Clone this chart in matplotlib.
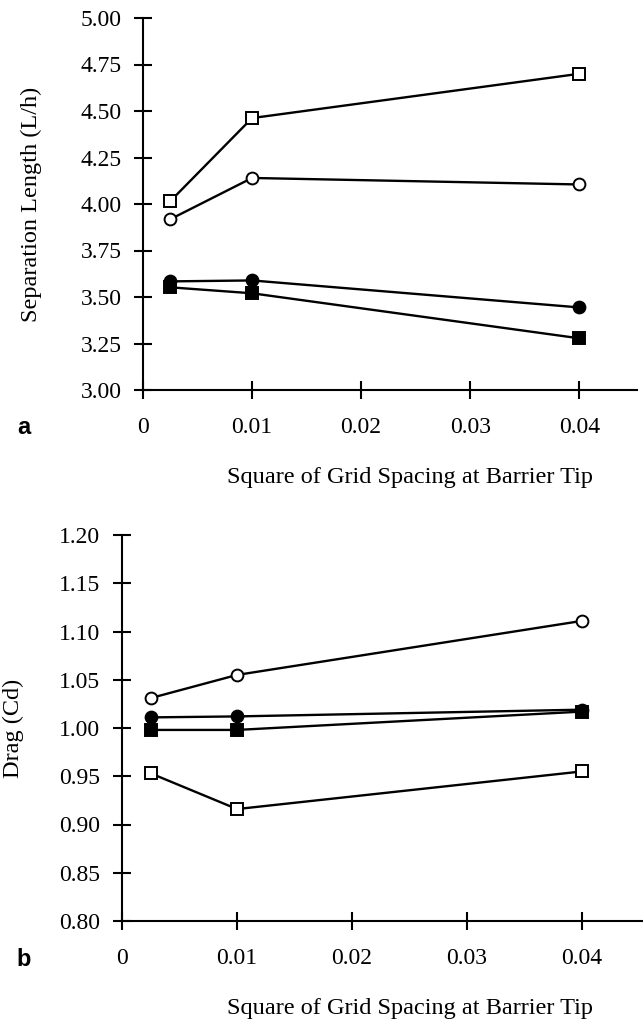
import matplotlib

matplotlib.use("Agg")
import matplotlib.pyplot as plt

# grid spacing squared at the barrier tip (0.05^2, 0.1^2, 0.2^2)
grid_sq = [0.0025, 0.01, 0.04]

# separation length L/h, panel a
sep_open_sq = [4.015, 4.462, 4.700]
sep_open_ci = [3.918, 4.140, 4.105]
sep_fill_ci = [3.584, 3.589, 3.444]
sep_fill_sq = [3.552, 3.520, 3.278]

# drag coefficient Cd, panel b
cd_open_ci = [1.031, 1.055, 1.111]
cd_fill_ci = [1.011, 1.012, 1.019]
cd_fill_sq = [0.998, 0.998, 1.017]
cd_open_sq = [0.953, 0.916, 0.955]

xticks = [0, 0.01, 0.02, 0.03, 0.04]
xticklabels = ["0", "0.01", "0.02", "0.03", "0.04"]
sep_ticks = [3.00, 3.25, 3.50, 3.75, 4.00, 4.25, 4.50, 4.75, 5.00]
cd_ticks = [0.80, 0.85, 0.90, 0.95, 1.00, 1.05, 1.10, 1.15, 1.20]

plt.rcParams.update({
    "font.family": "Liberation Serif",
    "font.size": 17,
    "axes.linewidth": 1.5,
})

SERIES_STYLE = {
    "open_sq": dict(marker="s", mfc="white"),
    "open_ci": dict(marker="o", mfc="white"),
    "fill_ci": dict(marker="o", mfc="black"),
    "fill_sq": dict(marker="s", mfc="black"),
}


def panel(ax, series, yticks, ylabel, tag, ylab_x, xlab_x):
    for key, ys in series:
        ax.plot(grid_sq, ys, color="black", lw=1.7, ms=8.5, mec="black",
                mew=1.4, clip_on=False, zorder=3, **SERIES_STYLE[key])
    ax.set_xlim(0, 0.0453)
    ax.set_ylim(yticks[0], yticks[-1])
    ax.set_xticks(xticks)
    ax.set_xticklabels(xticklabels)
    ax.set_yticks(yticks)
    ax.set_yticklabels([f"{t:.2f}" for t in yticks])
    ax.spines["top"].set_visible(False)
    ax.spines["right"].set_visible(False)
    ax.tick_params(direction="inout", length=13, width=1.5, labelsize=17)
    ax.tick_params(axis="x", pad=13)
    ax.tick_params(axis="y", pad=9)
    ax.set_ylabel(ylabel, fontsize=17.5)
    ax.yaxis.set_label_coords(ylab_x, 0.5)
    ax.set_xlabel("Square of Grid Spacing at Barrier Tip", fontsize=17.5)
    ax.xaxis.set_label_coords(xlab_x, -77 / ax.bbox.height)
    # panel tag sits on the tick-label row, at the left edge of the figure
    fig = ax.figure
    y_row = ax.get_position().y0 - 38 / fig.bbox.height
    fig.text(24 / fig.bbox.width, y_row, tag, fontsize=17, fontweight="bold",
             family="Liberation Sans", va="center", ha="center")


fig = plt.figure(figsize=(6.43, 10.24), dpi=100)
ax_a = fig.add_axes([143 / 643, 1 - 390 / 1024, 494 / 643, 372 / 1024])
ax_b = fig.add_axes([122 / 643, 1 - 921 / 1024, 521 / 643, 386 / 1024])

panel(ax_a, [("open_sq", sep_open_sq), ("open_ci", sep_open_ci),
             ("fill_ci", sep_fill_ci), ("fill_sq", sep_fill_sq)],
      sep_ticks, "Separation Length (L/h)", "a", -0.204, 0.54)
panel(ax_b, [("open_ci", cd_open_ci), ("fill_ci", cd_fill_ci),
             ("fill_sq", cd_fill_sq), ("open_sq", cd_open_sq)],
      cd_ticks, "Drag (Cd)", "b", -0.188, 0.553)

fig.savefig("out.png", dpi=100)
